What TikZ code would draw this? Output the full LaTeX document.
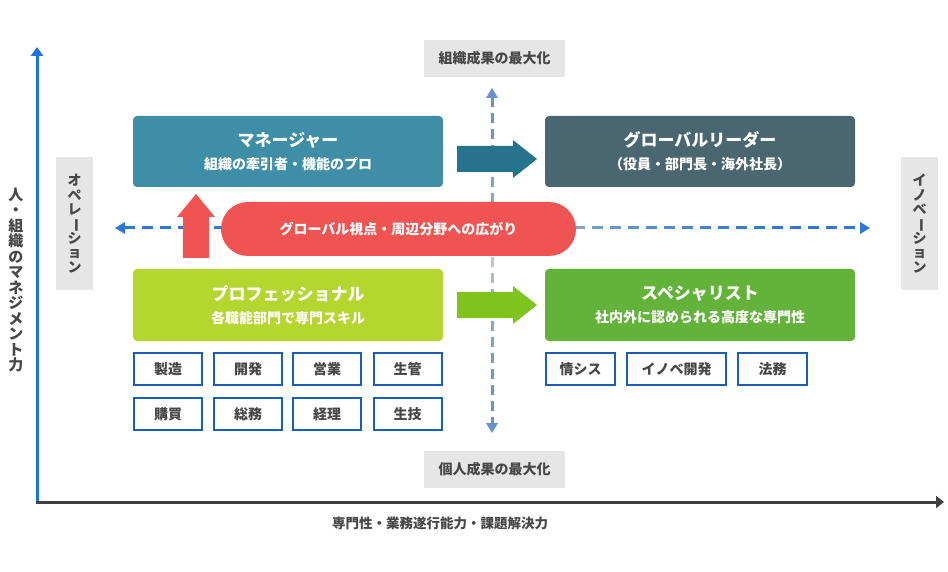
\documentclass[tikz,border=0pt]{standalone}
\usepackage{fontspec}
\setmainfont{Noto Sans CJK JP}
\usetikzlibrary{arrows.meta}
\definecolor{mgrteal}{HTML}{3F8EA8}
\definecolor{leadslate}{HTML}{4A6670}
\definecolor{profgreen}{HTML}{B5D52F}
\definecolor{specgreen}{HTML}{63B23A}
\definecolor{tealarrow}{HTML}{26738E}
\definecolor{greenarrow}{HTML}{7FC41E}
\definecolor{redpill}{HTML}{EF5452}
\definecolor{sboxblue}{HTML}{1B5EB5}
\definecolor{lblgray}{HTML}{E6E6E6}
\definecolor{txtgray}{HTML}{474747}
\definecolor{yaxisblue}{HTML}{1A73E8}
\definecolor{xaxisgray}{HTML}{404040}
\definecolor{dashblue}{HTML}{2F77D6}
\definecolor{vdashblue}{HTML}{6393D2}
\definecolor{dashgray}{HTML}{C6C6C6}
\newcommand\vchoon{\smash{\rotatebox[origin=c]{-90}{ー}}}
\tikzset{
  mainbox/.style={rounded corners=4pt, minimum width=310pt, minimum height=71pt,
    inner sep=0pt, text=white, align=center, font=\fontsize{14}{23}\selectfont\bfseries},
  smallbox/.style={draw=sboxblue, line width=2pt, fill=white, minimum height=32pt,
    inner sep=0pt, text=txtgray, font=\fontsize{14}{16}\selectfont\bfseries},
  graylabel/.style={fill=lblgray, text=txtgray, inner sep=0pt,
    font=\fontsize{14}{16}\selectfont\bfseries},
  vlabel/.style={fill=lblgray, text=txtgray, inner sep=0pt, align=center,
    minimum width=37pt, minimum height=133pt,
    font=\fontsize{14}{14.4}\selectfont\bfseries},
  axisline/.style={line width=3pt}
}
\newcommand\bigttl[1]{{\fontsize{17}{23}\selectfont #1}}
\begin{document}
\begin{tikzpicture}[x=1pt,y=-1pt]
\useasboundingbox (0,0) rectangle (948,572);

% axes
\coordinate (orig) at (37,502);
\coordinate (ytip) at (37,47);
\coordinate (xtip) at (944,502);
\draw[axisline, yaxisblue, -{Triangle[length=9pt,width=12pt]}] (37,503.5) -- (ytip);
\draw[axisline, xaxisgray, -{Triangle[length=8pt,width=12pt]}] (35.5,502) -- (xtip);

\node[text=txtgray, align=center, inner sep=0pt,
  font=\fontsize{15}{15.5}\selectfont\bfseries] (ylab) at (16,280)
  {人\\・\\組\\織\\の\\マ\\ネ\\ジ\\メ\\ン\\ト\\力};
\node[text=txtgray, inner sep=0pt, font=\fontsize{13.5}{16}\selectfont\bfseries] (xlab) at (440,523)
  {専門性・業務遂行能力・課題解決力};

% gray labels
\node[graylabel, minimum width=141pt, minimum height=37pt] (top) at (494.5,58.5) {組織成果の最大化};
\node[graylabel, minimum width=141pt, minimum height=37pt] (bot) at (494.5,469.5) {個人成果の最大化};
\node[vlabel] (ope) at (74.5,223.5) {オ\\ペ\\レ\\\vchoon\\シ\\ョ\\ン};
\node[vlabel] (inno) at (919.5,223.5) {イ\\ノ\\ベ\\\vchoon\\シ\\ョ\\ン};

% vertical gradient dashed arrow
\coordinate (vtop) at (492,88);
\coordinate (vbot) at (492,433);
\foreach \k in {0,...,20}{
  \pgfmathsetmacro\ya{97+16*\k}
  \pgfmathsetmacro\yb{min(\ya+10,424)}
  \pgfmathsetmacro\t{min(1,abs((\ya+5)-260)/165)}
  \pgfmathsetmacro\p{100*\t*(2-\t)}
  \draw[line width=3pt, vdashblue!\p!dashgray] (492,\ya) -- (492,\yb);
}
\fill[vdashblue] (vtop) -- ++(-6,10) -- ++(12,0) -- cycle;
\fill[vdashblue] (vbot) -- ++(-6,-10) -- ++(12,0) -- cycle;

% horizontal gradient dashed arrow
\coordinate (hleft) at (115,228);
\coordinate (hright) at (870,228);
\foreach \k in {0,...,40}{
  \pgfmathsetmacro\xa{124+18*\k}
  \pgfmathsetmacro\xb{min(\xa+11,861)}
  \pgfmathsetmacro\t{min(1,abs((\xa+5.5)-492)/330)}
  \pgfmathsetmacro\p{100*\t*(2-\t)}
  \draw[line width=3pt, dashblue!\p!dashgray] (\xa,228) -- (\xb,228);
}
\fill[dashblue] (hleft) -- ++(10,-6) -- ++(0,12) -- cycle;
\fill[dashblue] (hright) -- ++(-10,-6) -- ++(0,12) -- cycle;

% main boxes
\node[mainbox, fill=mgrteal] (mgr) at (288,151.5)
  {\bigttl{マネージャー}\\組織の牽引者・機能のプロ};
\node[mainbox, fill=leadslate] (lead) at (700,151.5)
  {\bigttl{グローバルリーダー}\\（役員・部門長・海外社長）};
\node[mainbox, fill=profgreen, minimum height=72pt] (prof) at (288,305)
  {\bigttl{プロフェッショナル}\\各職能部門で専門スキル};
\node[mainbox, fill=specgreen, minimum height=72pt] (spec) at (700,305)
  {\bigttl{スペシャリスト}\\社内外に認められる高度な専門性};

% block arrows
\fill[tealarrow] (457,146) -- (513,146) -- (513,140) -- (537,159) -- (513,178) -- (513,172) -- (457,172) -- cycle;
\fill[greenarrow] (457,292) -- (513,292) -- (513,286) -- (537,305) -- (513,324) -- (513,318) -- (457,318) -- cycle;
\fill[redpill] (183,258) -- (183,217) -- (177,217) -- (196,194) -- (215,217) -- (209,217) -- (209,258) -- cycle;

% red pill
\node[fill=redpill, rounded corners=27pt, minimum width=355pt, minimum height=54pt,
  inner sep=0pt, text=white, font=\fontsize{14}{16}\selectfont\bfseries] (pill) at (398.5,229)
  {グローバル視点・周辺分野への広がり};

% small boxes
\node[smallbox, minimum width=68pt] (b1) at (168,369) {製造};
\node[smallbox, minimum width=68pt] (b2) at (248,369) {開発};
\node[smallbox, minimum width=68pt] (b3) at (327,369) {営業};
\node[smallbox, minimum width=68pt] (b4) at (407.5,369) {生管};
\node[smallbox, minimum width=68pt] (b5) at (168,414) {購買};
\node[smallbox, minimum width=68pt] (b6) at (248,414) {総務};
\node[smallbox, minimum width=68pt] (b7) at (327,414) {経理};
\node[smallbox, minimum width=68pt] (b8) at (407.5,414) {生技};
\node[smallbox, minimum width=69pt] (s1) at (580.5,369) {情シス};
\node[smallbox, minimum width=99pt] (s2) at (676.5,369) {イノベ開発};
\node[smallbox, minimum width=69pt] (s3) at (772.5,369) {法務};
\end{tikzpicture}
\end{document}
